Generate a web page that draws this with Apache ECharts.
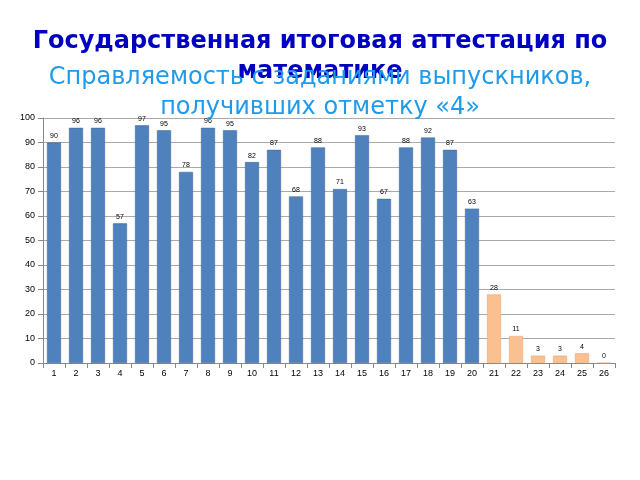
<!DOCTYPE html><html><head><meta charset="utf-8"><script src="https://cdn.jsdelivr.net/npm/echarts@6/dist/echarts.min.js"></script></head><body style="margin:0"><div id="c" style="width:640px;height:480px"></div><script>
const categories = ['1','2','3','4','5','6','7','8','9','10','11','12','13','14','15','16','17','18','19','20','21','22','23','24','25','26'];
const values = [90,96,96,57,97,95,78,96,95,82,87,68,88,71,93,67,88,92,87,63,28,11,3,3,4,0];
const highlightFrom = 20;
const c = echarts.init(document.getElementById('c'));
c.setOption({
  animation:false,
  title:[{text:'Государственная итоговая аттестация по\nматематике',left:'center',top:22,textStyle:{color:'#0000C0',fontSize:24,fontWeight:'bold',fontFamily:'DejaVu Sans',lineHeight:30}},
    {text:'Справляемость с заданиями выпускников,\nполучивших отметку «4»',left:'center',top:58,textStyle:{color:'#1E9BEA',fontSize:24,fontWeight:'normal',fontFamily:'DejaVu Sans',lineHeight:30}}],
  grid:{left:43,right:25,top:118,bottom:117},
  xAxis:{type:'category',data:categories,axisTick:{show:true,alignWithLabel:false},axisLine:{lineStyle:{color:'#888'}},axisLabel:{color:'#000',fontSize:9,margin:6}},
  yAxis:{type:'value',min:0,max:100,interval:10,axisLine:{show:true,lineStyle:{color:'#888'}},axisTick:{show:true},splitLine:{lineStyle:{color:'#aaa'}},axisLabel:{color:'#000',fontSize:9}},
  series:[{type:'bar',barWidth:14,
    data:values.map((v,i)=>({value:v,itemStyle:i>=highlightFrom?{color:'#FAC090',borderColor:'#E0A070',borderWidth:0.5}:{color:'#4F81BD',borderColor:'#3A6496',borderWidth:0.5}})),
    label:{show:true,position:'top',fontSize:7,color:'#000',distance:3}}]
});
</script></body></html>
